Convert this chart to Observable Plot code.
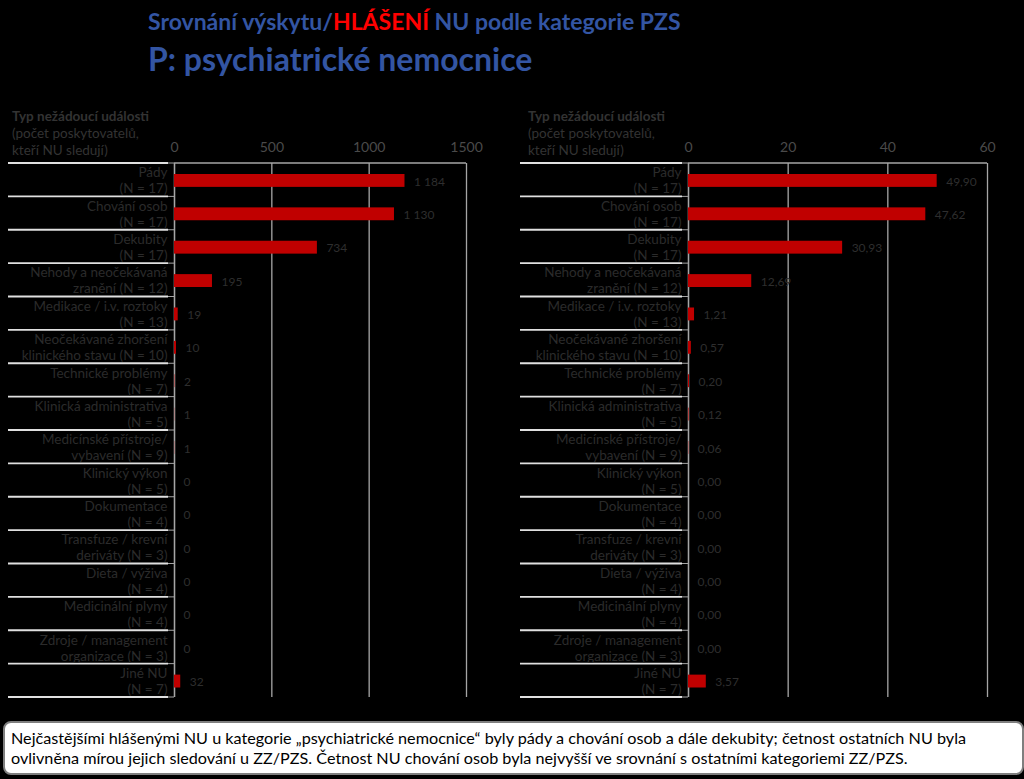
<!DOCTYPE html>
<html><head><meta charset="utf-8">
<script src="https://cdn.jsdelivr.net/npm/d3@7"></script>
<script src="https://cdn.jsdelivr.net/npm/@observablehq/plot@0.6"></script>
<style>
html,body{margin:0;padding:0;background:#000;}
body{width:1024px;height:779px;overflow:hidden;position:relative;font-family:Lato,"Open Sans",sans-serif;}
.abs{position:absolute;white-space:nowrap;}
#t1{left:148px;top:7px;font-size:23px;font-weight:700;color:#3355a3;}
#t1 span{color:#ff0000;}
#t2{left:148px;top:39px;font-size:32px;font-weight:700;color:#3355a3;}
.hdr{font-size:13.5px;line-height:17px;color:#333;}
.hdr b{font-weight:700;}
#h1{left:12px;top:108px;}
#h2{left:528px;top:108px;}
#p1{left:0;top:105px;}
#p2{left:512px;top:105px;}
#cap{left:3px;top:721px;width:1011px;height:50px;background:#fff;border:2px solid #7f7f7f;border-radius:8px;
  font-size:16.2px;line-height:20px;color:#000;padding:0 0 0 6px;box-sizing:content-box;}
#cap div{padding-top:5px;white-space:normal;}
</style></head><body>
<div id="t1" class="abs">Srovnání výskytu/<span>HLÁŠENÍ</span> NU podle kategorie PZS</div>
<div id="t2" class="abs">P: psychiatrické nemocnice</div>
<div id="h1" class="abs hdr"><b>Typ nežádoucí události</b><br>(počet poskytovatelů,<br>kteří NU sledují)</div>
<div id="h2" class="abs hdr"><b>Typ nežádoucí události</b><br>(počet poskytovatelů,<br>kteří NU sledují)</div>
<div id="p1" class="abs"></div>
<div id="p2" class="abs"></div>
<div id="cap" class="abs"><div>Nejčastějšími hlášenými NU u kategorie „psychiatrické nemocnice“ byly pády a chování osob a dále dekubity; četnost ostatních NU byla<br>ovlivněna mírou jejich sledování u ZZ/PZS. Četnost NU chování osob byla nejvyšší ve srovnání s ostatními kategoriemi ZZ/PZS.</div></div>
<script>
const categoryLabels = [
  "Pády\n(N = 17)",
  "Chování osob\n(N = 17)",
  "Dekubity\n(N = 17)",
  "Nehody a neočekávaná\nzranění (N = 12)",
  "Medikace / i.v. roztoky\n(N = 13)",
  "Neočekávané zhoršení\nklinického stavu (N = 10)",
  "Technické problémy\n(N = 7)",
  "Klinická administrativa\n(N = 5)",
  "Medicínské přístroje/\nvybavení (N = 9)",
  "Klinický výkon\n(N = 5)",
  "Dokumentace\n(N = 4)",
  "Transfuze / krevní\nderiváty (N = 3)",
  "Dieta / výživa\n(N = 4)",
  "Medicinální plyny\n(N = 4)",
  "Zdroje / management\norganizace (N = 3)",
  "Jiné NU\n(N = 7)"
];
const reportCounts = [1184, 1130, 734, 195, 19, 10, 2, 1, 1, 0, 0, 0, 0, 0, 0, 32];
const reportRates = [49.90, 47.62, 30.93, 12.69, 1.21, 0.57, 0.20, 0.12, 0.06, 0.00, 0.00, 0.00, 0.00, 0.00, 0.00, 3.57];
const countTicks = [0, 500, 1000, 1500];
const rateTicks = [0, 20, 40, 60];

const locale = d3.formatLocale({decimal: ",", thousands: "\u00a0", grouping: [3], currency: ["", ""]});
const fmtCount = locale.format(",d");
const fmtRate = d => d.toFixed(2).replace(".", ",");

function lines(cats, xmax) {
  return (index, scales, values, dims) => {
    const x = scales.x, y = scales.y;
    const step = y(cats[1]) - y(cats[0]);
    const ys = cats.map(c => y(c)).concat([y(cats[cats.length - 1]) + step]);
    const g = d3.create("svg:g");
    g.selectAll("line.sep").data(ys).join("line")
      .attr("x1", 8).attr("x2", dims.marginLeft - 6)
      .attr("y1", d => d).attr("y2", d => d)
      .attr("stroke", "#e0e0e0").attr("stroke-width", 1.8);
    g.selectAll("line.tk").data(ys).join("line")
      .attr("x1", dims.marginLeft - 6).attr("x2", dims.marginLeft)
      .attr("y1", d => d).attr("y2", d => d)
      .attr("stroke", "#a6a6a6").attr("stroke-width", 1);
    g.append("line").attr("x1", x(0)).attr("x2", x(xmax))
      .attr("y1", ys[0]).attr("y2", ys[0]).attr("stroke", "#a6a6a6").attr("stroke-width", 1.3);
    return g.node();
  };
}

function panel(values, ticks, fmt, width, marginLeft, marginRight) {
  const data = categoryLabels.map((c, i) => ({label: c, value: values[i]}));
  const xmax = ticks[ticks.length - 1];
  return Plot.plot({
    width, height: 604,
    marginTop: 58, marginBottom: 12, marginLeft, marginRight,
    style: {background: "transparent", fontFamily: "Lato, 'Open Sans', sans-serif", color: "#4a4a4a"},
    x: {domain: [0, xmax], label: null},
    y: {domain: categoryLabels, padding: 0, round: false, axis: null},
    marks: [
      Plot.gridX({ticks, stroke: "#a6a6a6", strokeOpacity: 1, strokeWidth: 1.3}),
      Plot.ruleX([0], {stroke: "#a6a6a6", strokeWidth: 1.3}),
      lines(categoryLabels, xmax),
      Plot.barX(data, {x: "value", y: "label", fill: "#c00000", insetTop: 11, insetBottom: 9.5}),
      Plot.text(data, {x: "value", y: "label", text: d => fmt(d.value), dx: 9, dy: 1.5, textAnchor: "start", fontSize: 12, fill: "#2e2e2e"}),
      Plot.text(data, {y: "label", text: "label", frameAnchor: "left", dx: -7, textAnchor: "end", fontSize: 13.5, lineHeight: 1.18, fill: "#2b2b2b"}),
      Plot.axisX({anchor: "top", ticks, tickSize: 0, tickPadding: 12, tickFormat: "d", fontSize: 14, color: "#4a4a4a", label: null})
    ]
  });
}

document.getElementById("p1").append(panel(reportCounts, countTicks, fmtCount, 490, 174, 24));
document.getElementById("p2").append(panel(reportRates, rateTicks, fmtRate, 500, 176, 25));
</script>
</body></html>
